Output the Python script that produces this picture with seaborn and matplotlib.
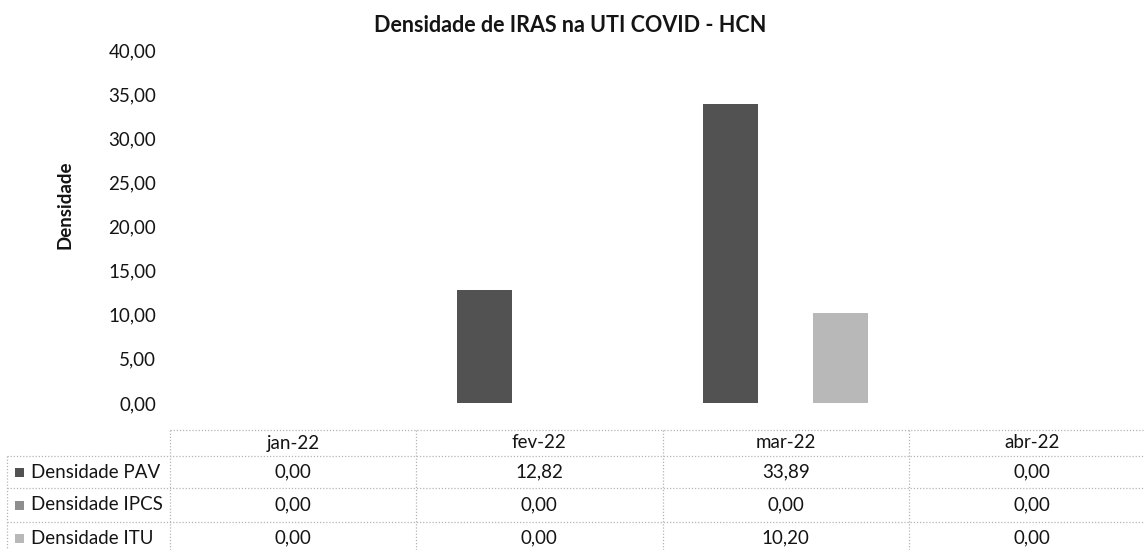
import matplotlib
matplotlib.use("Agg")
import matplotlib.pyplot as plt
import matplotlib.transforms as mtransforms
from matplotlib.lines import Line2D
from matplotlib.patches import Rectangle
import seaborn as sns
import pandas as pd

# Monthly infection density per device type
months = ["jan-22", "fev-22", "mar-22", "abr-22"]
series = ["Densidade PAV", "Densidade IPCS", "Densidade ITU"]
pav = [0.00, 12.82, 33.89, 0.00]
ipcs = [0.00, 0.00, 0.00, 0.00]
itu = [0.00, 0.00, 10.20, 0.00]
yticks = [0, 5, 10, 15, 20, 25, 30, 35, 40]

colors = ["#525252", "#8e8e8e", "#b8b8b8"]

df = pd.DataFrame({
    "mes": months * 3,
    "serie": [s for s in series for _ in months],
    "valor": pav + ipcs + itu,
})

sns.set_theme(style="white")
plt.rcParams["font.family"] = ["Lato", "DejaVu Sans"]
txt = "#141414"

W, H = 1144, 550
fig = plt.figure(figsize=(W / 100, H / 100), dpi=100)

def fx(px):
    return px / W

def fy(py):
    return 1 - py / H

left_px, right_px, top_px, zero_px = 170, 1155, 50, 403
ax = fig.add_axes([fx(left_px), fy(zero_px), fx(right_px - left_px), (zero_px - top_px) / H])

sns.barplot(data=df, x="mes", y="valor", hue="serie", hue_order=series,
            palette=colors, width=0.67, saturation=1, ax=ax, legend=False,
            linewidth=0, errorbar=None)

ax.set_xlim(-0.5, 3.5)
ax.set_ylim(0, 40)
ax.set_yticks(yticks)
ax.set_yticklabels([f"{v:.2f}".replace(".", ",") for v in yticks], fontsize=13.5, color=txt)
ax.tick_params(axis="y", length=0, pad=10)
ax.set_xticks([])
ax.set_xlabel("")
ax.set_ylabel("")
for s in ax.spines.values():
    s.set_visible(False)
ax.grid(False)

fig.text(fx(65), fy(205), "Densidade", rotation=90, ha="center", va="center",
         fontsize=13.5, fontweight="bold", color=txt)
fig.text(fx(570), fy(25), "Densidade de IRAS na UTI COVID - HCN", ha="center", va="center",
         fontsize=15.5, fontweight="bold", color=txt)

# Data table under the plot, columns aligned with the categories
tr = mtransforms.blended_transform_factory(ax.transData, fig.transFigure)
row_y = [443, 472, 505, 538]
line_y = [430, 456, 488, 522]
grid_kw = dict(color="#b5b5b5", lw=0.9, ls=(0, (1, 1.5)))

fig.add_artist(Line2D([fx(left_px), 1], [fy(line_y[0])] * 2, transform=fig.transFigure, **grid_kw))
for ly in line_y[1:]:
    fig.add_artist(Line2D([fx(7), 1], [fy(ly)] * 2, transform=fig.transFigure, **grid_kw))
fig.add_artist(Line2D([fx(7), fx(7)], [fy(line_y[1]), 0], transform=fig.transFigure, **grid_kw))
for i in range(len(months)):
    fig.add_artist(Line2D([i - 0.5, i - 0.5], [fy(line_y[0]), 0], transform=tr, **grid_kw))

for i, m in enumerate(months):
    fig.text(i, fy(row_y[0]), m, transform=tr, ha="center", va="center", fontsize=13.5, color=txt)

for r, (name, vals, col) in enumerate(zip(series, [pav, ipcs, itu], colors)):
    y = fy(row_y[r + 1])
    fig.add_artist(Rectangle((fx(15), y - 4.5 / H), 9 / W, 9 / H, transform=fig.transFigure,
                             facecolor=col, edgecolor="none"))
    fig.text(fx(31), y, name, ha="left", va="center", fontsize=13.5, color=txt)
    for i, v in enumerate(vals):
        fig.text(i, y, f"{v:.2f}".replace(".", ","), transform=tr, ha="center", va="center",
                 fontsize=13.5, color=txt)

fig.savefig("out.png", dpi=100)
